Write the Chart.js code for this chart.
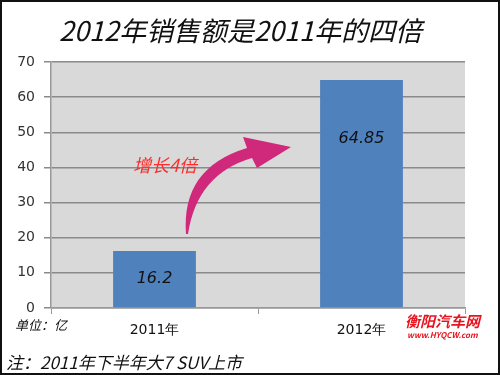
<!DOCTYPE html>
<html>
<head>
<meta charset="utf-8">
<script src="https://cdn.jsdelivr.net/npm/chart.js@4"></script>
<style>
  html, body { margin: 0; padding: 0; background: #fff; }
  #wrap { position: relative; width: 500px; height: 375px; box-sizing: border-box; border: 2px solid #111; overflow: hidden; }
  #wrap canvas { position: absolute; left: -2px; top: -2px; }
  .txt { position: absolute; font-family: "Noto Sans CJK SC", "DejaVu Sans", sans-serif; font-style: italic; color: #111; white-space: nowrap; }
</style>
</head>
<body>
<div id="wrap">
  <canvas id="chart" width="500" height="375"></canvas>
  <div class="txt" style="left:57px; top:11px; font-size:27px; line-height:33px;">2012年销售额是2011年的四倍</div>
  <div class="txt" style="left:13px; top:315px; font-size:13px; line-height:16px;">单位：亿</div>
  <div class="txt" style="left:4px; top:349px; font-size:17px; line-height:22px;">注：2011年下半年大7 SUV上市</div>
  <div class="txt" style="left:131px; top:151px; font-size:18px; line-height:22px; color:#ff2a2a;">增长4倍</div>
  <div class="txt" style="left:403px; top:310px; font-size:15px; line-height:18px; color:#e8141e; font-weight:bold;">衡阳汽车网</div>
  <div class="txt" style="left:405px; top:328px; font-size:8px; line-height:10px; color:#e8141e; font-weight:bold;">www.HYQCW.com</div>
</div>
<script>
const years = ["2011年", "2012年"];
const sales = [16.2, 64.85];
const yTicks = [0, 10, 20, 30, 40, 50, 60, 70];

const plotBg = {
  id: "plotBg",
  beforeDraw(chart) {
    const { ctx, chartArea: a } = chart;
    ctx.save();
    ctx.fillStyle = "#d9d9d9";
    ctx.fillRect(a.left, a.top, a.right - a.left, a.bottom - a.top);
    ctx.restore();
  }
};

const valueLabels = {
  id: "valueLabels",
  afterDatasetsDraw(chart) {
    const { ctx } = chart;
    const meta = chart.getDatasetMeta(0);
    ctx.save();
    ctx.font = "italic 16px 'DejaVu Sans', sans-serif";
    ctx.fillStyle = "#111";
    ctx.textAlign = "center";
    ctx.textBaseline = "middle";
    meta.data.forEach((bar, i) => {
      const y = i === 0 ? (bar.y + bar.base) / 2 : bar.y + (bar.base - bar.y) * 0.26;
      ctx.fillText(String(sales[i]), bar.x, y);
    });
    ctx.restore();
  }
};

// decorative curved arrow between the two bars
const growthArrow = {
  id: "growthArrow",
  afterDatasetsDraw(chart) {
    const { ctx, chartArea: a } = chart;
    const x = a.left, y = a.top;
    ctx.save();
    ctx.fillStyle = "#d0287a";
    ctx.beginPath();
    ctx.moveTo(x + 135, y + 172);
    ctx.quadraticCurveTo(x + 130, y + 106, x + 196, y + 86);
    ctx.lineTo(x + 192, y + 75);
    ctx.lineTo(x + 240, y + 85);
    ctx.lineTo(x + 206, y + 106);
    ctx.lineTo(x + 201, y + 96);
    ctx.quadraticCurveTo(x + 146, y + 112, x + 137, y + 172);
    ctx.closePath();
    ctx.fill();
    ctx.restore();
  }
};

new Chart(document.getElementById("chart"), {
  type: "bar",
  data: {
    labels: years,
    datasets: [{
      data: sales,
      backgroundColor: "#4f81bd",
      barPercentage: 0.4,
      categoryPercentage: 1
    }]
  },
  options: {
    responsive: false,
    animation: false,
    layout: { padding: { left: 0, top: 62, right: 35, bottom: 37 } },
    plugins: { legend: { display: false }, tooltip: { enabled: false } },
    scales: {
      x: {
        afterFit(scale) { scale.height = 30; },
        grid: { drawOnChartArea: false, tickLength: 6, color: "#999", offset: true },
        border: { color: "#999", width: 1.5 },
        ticks: { color: "#111", padding: 8, font: { size: 14, family: "'DejaVu Sans', sans-serif" } }
      },
      y: {
        min: 0,
        max: 70,
        afterFit(scale) { scale.width = 51; },
        afterBuildTicks(scale) { scale.ticks = yTicks.map((v) => ({ value: v })); },
        grid: { color: "#8a8a8a", lineWidth: 1.5, tickLength: 7 },
        border: { color: "#999", width: 1.5 },
        ticks: { color: "#333", padding: 9, font: { size: 14, family: "'DejaVu Sans', sans-serif" } }
      }
    }
  },
  plugins: [plotBg, valueLabels, growthArrow]
});
</script>
</body>
</html>
